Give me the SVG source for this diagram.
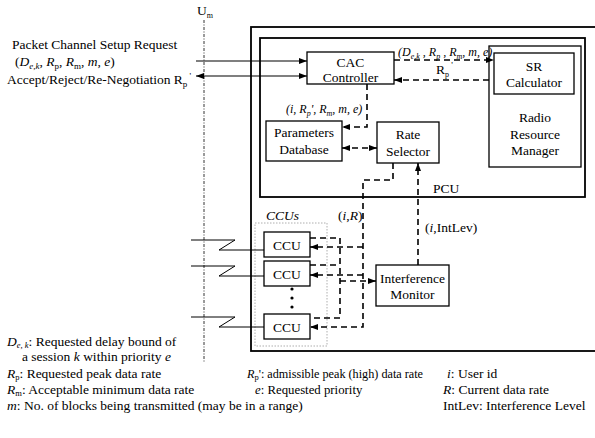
<svg xmlns="http://www.w3.org/2000/svg" width="595" height="438" viewBox="0 0 595 438" font-family="Liberation Serif, DejaVu Serif, serif">
<style>
  text { font-family: 'Liberation Serif', 'DejaVu Serif', serif; fill: #000; }
  .t { font-size: 13.5px; text-anchor: middle; }
  .l { font-size: 13.5px; }
  .s { font-size: 12px; font-style: italic; }
  .it { font-style: italic; }
  .box { fill: #fff; stroke: #000; stroke-width: 1.3; }
  .frame { fill: none; stroke: #000; stroke-width: 1.8; }
  .solid { fill: none; stroke: #000; stroke-width: 1.2; }
  .dash { fill: none; stroke: #000; stroke-width: 1.6; stroke-dasharray: 6 4; }
  .wire { fill: none; stroke: #000; stroke-width: 1; }
</style>
<defs>
  <marker id="ah" viewBox="0 0 8 6" refX="8" refY="3" markerWidth="8" markerHeight="6" markerUnits="userSpaceOnUse" orient="auto-start-reverse">
    <path d="M0,0 L8,3 L0,6 z" fill="#000"/>
  </marker>
</defs>
<rect width="595" height="438" fill="#fff"/>

<!-- Um interface line -->
<g id="um">
  <line x1="204" y1="20" x2="204" y2="362" stroke="#000" stroke-width="0.8" stroke-dasharray="3 1.5 1 1.5"/>
  <text x="197" y="15" class="l">U<tspan font-size="8" dy="3">m</tspan></text>
</g>

<!-- frames -->
<g id="bss">
  <rect x="251" y="27" width="400" height="324" class="frame"/>
</g>
<g id="pcu">
  <rect x="260" y="38" width="325" height="159" class="frame"/>
  <text x="433" y="193" class="l">PCU</text>
</g>

<g id="rrm">
  <rect x="489" y="46" width="92" height="121" class="box"/>
  <text x="535" y="122" class="t">Radio</text>
  <text x="535" y="139" class="t">Resource</text>
  <text x="535" y="155" class="t">Manager</text>
</g>
<g id="sr">
  <rect x="494" y="53" width="80" height="41" class="box"/>
  <text x="534" y="71" class="t">SR</text>
  <text x="534" y="87" class="t">Calculator</text>
</g>
<g id="cac">
  <rect x="307" y="52" width="87" height="32" class="box"/>
  <text x="350.5" y="67" class="t">CAC</text>
  <text x="350.5" y="82" class="t">Controller</text>
</g>
<g id="params">
  <rect x="266" y="121" width="76" height="40" class="box"/>
  <text x="304" y="137" class="t">Parameters</text>
  <text x="304" y="154" class="t">Database</text>
</g>
<g id="rate">
  <rect x="377" y="122" width="62" height="41" class="box"/>
  <text x="408" y="139" class="t">Rate</text>
  <text x="408" y="156" class="t">Selector</text>
</g>
<g id="im">
  <rect x="376" y="265" width="73" height="41" class="box"/>
  <text x="412.5" y="283" class="t">Interference</text>
  <text x="412.5" y="299" class="t">Monitor</text>
</g>

<g id="ccus">
  <rect x="255" y="223" width="72" height="123" fill="none" stroke="#999" stroke-width="0.8" stroke-dasharray="1.5 1.5"/>
  <text x="266" y="220" class="l it">CCUs</text>
  <circle cx="292" cy="289" r="1.6" fill="#000"/>
  <circle cx="292" cy="298" r="1.6" fill="#000"/>
  <circle cx="292" cy="307" r="1.6" fill="#000"/>
</g>
<g id="ccu1">
  <rect x="264" y="232" width="46" height="25" class="box"/>
  <text x="287" y="249.5" class="t">CCU</text>
</g>
<g id="ccu2">
  <rect x="264" y="261" width="46" height="25" class="box"/>
  <text x="287" y="278.5" class="t">CCU</text>
</g>
<g id="ccu3">
  <rect x="264" y="314" width="46" height="25" class="box"/>
  <text x="287" y="331.5" class="t">CCU</text>
</g>

<!-- connectors -->
<g id="connectors">
  <line x1="196" y1="61" x2="307" y2="61" class="solid" marker-end="url(#ah)"/>
  <line x1="196" y1="76" x2="307" y2="76" class="solid" marker-start="url(#ah)" marker-end="url(#ah)"/>
  <line x1="394" y1="60" x2="494" y2="60" class="dash" marker-end="url(#ah)"/>
  <line x1="489" y1="80" x2="394" y2="80" class="dash" marker-end="url(#ah)"/>
  <polyline points="367,84 367,127 342,127" class="dash" marker-end="url(#ah)"/>
  <line x1="342" y1="148" x2="377" y2="148" class="dash" marker-start="url(#ah)" marker-end="url(#ah)"/>
  <polyline points="393,163 393,180 363,180 363,327 310,327" class="dash" marker-end="url(#ah)"/>
  <line x1="363" y1="247" x2="310" y2="247" class="dash" marker-end="url(#ah)"/>
  <line x1="363" y1="275" x2="310" y2="275" class="dash" marker-end="url(#ah)"/>
  <polyline points="310,238 340,238 340,318 310,318" class="dash"/>
  <line x1="310" y1="265" x2="340" y2="265" class="dash"/>
  <line x1="340" y1="281" x2="376" y2="281" class="dash" marker-end="url(#ah)"/>
  <line x1="418" y1="265" x2="418" y2="163" class="dash" marker-end="url(#ah)"/>
  <polyline points="191,240 235,240 219,250 264,250" class="wire"/>
  <polyline points="191,266 235,266 219,276 264,276" class="wire"/>
  <polyline points="191,317 235,317 219,327 264,327" class="wire"/>
</g>

<!-- connector labels -->
<g id="labels">
  <text x="12" y="49" class="l">Packet Channel Setup Request</text>
  <text x="15" y="66" class="l">(<tspan class="it">D</tspan><tspan class="it" font-size="9" dy="3">e,k</tspan><tspan dy="-3">, </tspan><tspan class="it">R</tspan><tspan font-size="9" dy="3">p</tspan><tspan dy="-3">, </tspan><tspan class="it">R</tspan><tspan font-size="9" dy="3">m</tspan><tspan dy="-3">, </tspan><tspan class="it">m</tspan>, <tspan class="it">e</tspan>)</text>
  <text x="7" y="84" class="l">Accept/Reject/Re-Negotiation R<tspan font-size="9" dy="3">p</tspan><tspan font-size="9" dy="-8"> '</tspan></text>
  <text x="398" y="56" class="s">(<tspan>D</tspan><tspan font-size="8" dy="3">e,k</tspan><tspan dy="-3"> , R</tspan><tspan font-size="8" dy="3">p</tspan><tspan dy="-3"> , R</tspan><tspan font-size="8" dy="3">m</tspan><tspan dy="-3">, m, e)</tspan></text>
  <text x="436" y="74" class="l">R<tspan font-size="8" dy="3">p</tspan><tspan font-size="9" dy="-9"> '</tspan></text>
  <text x="286" y="113" class="s">(i, R<tspan font-size="8" dy="3">p</tspan><tspan dy="-3">', R</tspan><tspan font-size="8" dy="3">m</tspan><tspan dy="-3">, m, e)</tspan></text>
  <text x="338" y="220" class="l">(<tspan class="it">i</tspan>,<tspan class="it">R</tspan>)</text>
  <text x="425" y="232" class="l">(<tspan class="it">i</tspan>,IntLev)</text>
</g>

<!-- legend -->
<g id="legend">
  <text x="7" y="346" class="l"><tspan class="it">D</tspan><tspan class="it" font-size="8.5" dy="2">e, k</tspan><tspan dy="-2">: Requested delay bound of</tspan></text>
  <text x="22" y="361" class="l">a session <tspan class="it">k</tspan> within priority <tspan class="it">e</tspan></text>
  <text x="7" y="378" class="l"><tspan class="it">R</tspan><tspan font-size="8.5" dy="2">p</tspan><tspan dy="-2">: Requested peak data rate</tspan></text>
  <text x="7" y="394" class="l"><tspan class="it">R</tspan><tspan font-size="8.5" dy="2">m</tspan><tspan dy="-2">: Acceptable minimum data rate</tspan></text>
  <text x="7" y="410" class="l"><tspan class="it">m</tspan>: No. of blocks being transmitted (may be in a range)</text>
  <text x="247" y="378" class="l" font-size="12.2" style="font-size:12.2px"><tspan class="it">R</tspan><tspan font-size="8.5" dy="2">p</tspan><tspan dy="-2">': admissible peak (high) data rate</tspan></text>
  <text x="255" y="394" class="l" style="font-size:12.8px"><tspan class="it">e</tspan>: Requested priority</text>
  <text x="447" y="378" class="l"><tspan class="it">i</tspan>: User id</text>
  <text x="443" y="394" class="l"><tspan class="it">R</tspan>: Current data rate</text>
  <text x="443" y="410" class="l">IntLev: Interference Level</text>
</g>
</svg>
